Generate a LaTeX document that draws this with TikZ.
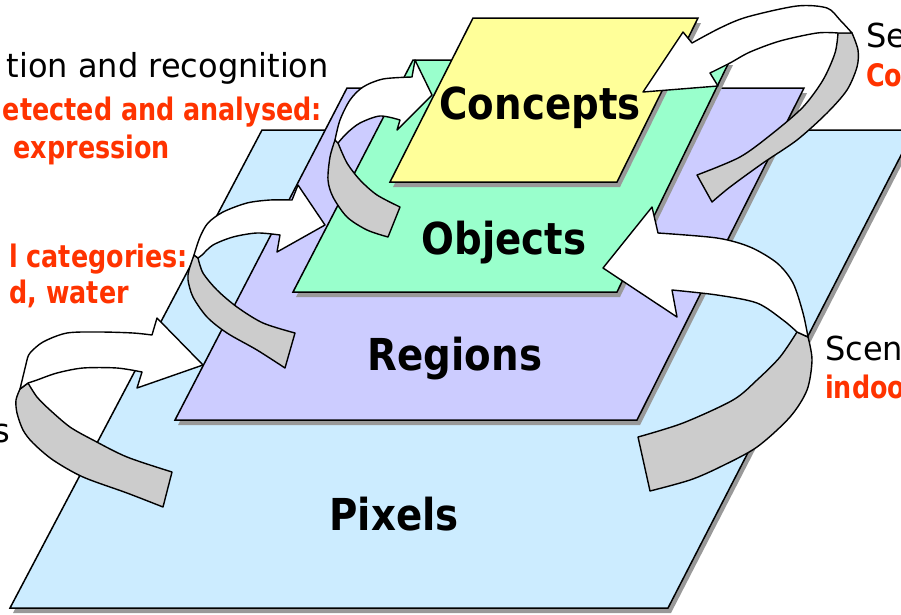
\documentclass[tikz,border=0pt]{standalone}
\usepackage{fontspec}
\setmainfont{DejaVu Sans}
\newfontfamily\lblfont{DejaVu Sans}[FakeStretch=0.88]
\newfontfamily\redfont{DejaVu Sans}[FakeStretch=0.82]
\newfontfamily\blkfont{DejaVu Sans}[FakeStretch=0.97]
\definecolor{pixc}{HTML}{CCECFF}
\definecolor{regc}{HTML}{CCCCFF}
\definecolor{objc}{HTML}{99FFCC}
\definecolor{conc}{HTML}{FFFF99}
\definecolor{shadc}{HTML}{999999}
\definecolor{backc}{HTML}{CCCCCC}
\definecolor{noteRed}{HTML}{FF3300}
\tikzset{
  layer/.style={draw=black, line width=1.5pt, line join=miter},
  layershadow/.style={fill=shadc, shift={(3,5)}},
  ribbonfront/.style={fill=white, draw=black, line width=1.4pt, line join=round},
  ribbonback/.style={fill=backc, draw=black, line width=1.4pt, line join=round},
  layerlabel/.style={inner sep=0pt, anchor=base, font=\lblfont\bfseries\fontsize{44}{50}\selectfont},
  blacknote/.style={inner sep=0pt, font=\blkfont\fontsize{33}{38}\selectfont},
  rednote/.style={inner sep=0pt, text=noteRed, font=\redfont\bfseries\fontsize{31}{36}\selectfont},
}
\begin{document}
\begin{tikzpicture}[x=1pt, y=-1pt]
\useasboundingbox (0,0) rectangle (901,614);
\clip (0,0) rectangle (901,614);

% Pixels layer
\fill[layershadow] (10,608) -- (668,608) -- (914,130) -- (262,130) -- cycle;
\draw[layer, fill=pixc] (10,608) -- (668,608) -- (914,130) -- (262,130) -- cycle;

% ribbon arrow: Pixels -> Regions
\draw[ribbonback] plot[smooth] coordinates {(20,389) (16,400) (17,413) (23,430) (33,443) (53,460) (83,477) (127,493) (163,507)}
  -- plot[smooth] coordinates {(172,472) (127,457) (93,440) (70,427) (50,410) (37,397) (28,383)} -- cycle;
\draw[ribbonfront] plot[smooth] coordinates {(152,335) (133,333) (100,332) (67,333) (43,342) (30,353) (27,360)}
  -- (20,389)
  -- plot[smooth] coordinates {(28,383) (37,380) (57,373) (83,368) (117,368) (142,372)}
  -- (137,388) -- (203,365) -- (157,318) -- cycle;

% Regions layer
\fill[layershadow] (175,420) -- (637,420) -- (804,88) -- (347,88) -- cycle;
\draw[layer, fill=regc] (175,420) -- (637,420) -- (804,88) -- (347,88) -- cycle;

% ribbon arrow: Regions -> Objects
\draw[ribbonback] plot[smooth] coordinates {(194,255) (189,270) (188,280) (193,297) (207,317) (227,333) (257,350) (285,368)}
  -- plot[smooth] coordinates {(295,333) (263,323) (237,307) (217,290) (203,273) (198,258)} -- cycle;
\draw[ribbonfront] plot[smooth] coordinates {(292,200) (270,200) (247,203) (223,212) (208,223) (200,237) (194,255)}
  -- plot[smooth] coordinates {(198,258) (202,255) (213,245) (233,237) (257,233) (280,235)}
  -- (277,252) -- (325,225) -- (298,185) -- cycle;

% Objects layer
\fill[layershadow] (293,292) -- (617,292) -- (730,60) -- (413,60) -- cycle;
\draw[layer, fill=objc] (293,292) -- (617,292) -- (730,60) -- (413,60) -- cycle;

% ribbon arrow: Objects -> Concepts
\draw[ribbonback] plot[smooth] coordinates {(335,140) (330,157) (328,180) (333,197) (347,217) (367,230) (388,237)}
  -- plot[smooth] coordinates {(400,207) (377,195) (360,180) (347,163) (338,143)} -- cycle;
\draw[ribbonfront] plot[smooth] coordinates {(412,77) (383,79) (363,87) (350,100) (340,120) (335,140)}
  -- plot[smooth] coordinates {(338,143) (347,133) (360,123) (380,116) (400,120)}
  -- (397,130) -- (432,95) -- (415,60) -- cycle;

% Concepts layer
\fill[layershadow] (390,182) -- (617,182) -- (698,18) -- (473,18) -- cycle;
\draw[layer, fill=conc] (390,182) -- (617,182) -- (698,18) -- (473,18) -- cycle;

% ribbon arrow on the right, top
\draw[ribbonback] plot[smooth] coordinates {(852,33) (858,50) (857,67) (847,90) (827,113) (797,140) (763,163) (730,187) (712,202)}
  -- plot[smooth] coordinates {(697,175) (740,157) (773,133) (803,107) (823,80) (835,53) (838,33)} -- cycle;
\draw[ribbonfront] plot[smooth] coordinates {(692,43) (720,28) (747,17) (797,6) (827,8) (840,20) (852,33)}
  -- plot[smooth] coordinates {(838,33) (817,33) (780,41) (750,52) (730,63) (710,73)}
  -- (718,86) -- (643,92) -- (683,32) -- cycle;

% ribbon arrow on the right, lower
\draw[ribbonback] plot[smooth] coordinates {(808,337) (812,360) (807,390) (790,417) (757,447) (720,467) (690,480) (650,491)}
  -- plot[smooth] coordinates {(638,437) (683,423) (733,400) (757,380) (780,357) (797,332)} -- cycle;
\draw[ribbonfront] plot[smooth] coordinates {(658,233) (717,238) (750,247) (777,263) (793,283) (803,313) (808,337)}
  -- plot[smooth] coordinates {(797,332) (783,320) (757,303) (717,295) (672,290)}
  -- (677,317) -- (603,268) -- (652,207) -- cycle;

% layer names
\node[layerlabel] (lconcepts) at (540,119) {Concepts};
\node[layerlabel] (lobjects) at (504,254) {Objects};
\node[layerlabel] (lregions) at (455,370) {Regions};
\node[layerlabel] (lpixels) at (394,530) {Pixels};

% notes on the left
\node[blacknote, anchor=base east] (n1) at (329,77) {tion and recognition};
\node[rednote, anchor=base east] (n2) at (322,120) {etected and analysed:};
\node[rednote, anchor=base east] (n3) at (170,158) {expression};
\node[rednote, anchor=base east] (n4) at (188,267) {l categories:};
\node[rednote, anchor=base east] (n5) at (129,303) {d, water};
\node[blacknote, anchor=base east] (n6) at (10,442) {s};

% notes on the right
\node[blacknote, anchor=base west] (n7) at (866,47) {Se};
\node[rednote, anchor=base west] (n8) at (866,86) {Co};
\node[blacknote, anchor=base west] (n9) at (825,360) {Scen};
\node[rednote, anchor=base west] (n10) at (825,398) {indoo};
\end{tikzpicture}
\end{document}
